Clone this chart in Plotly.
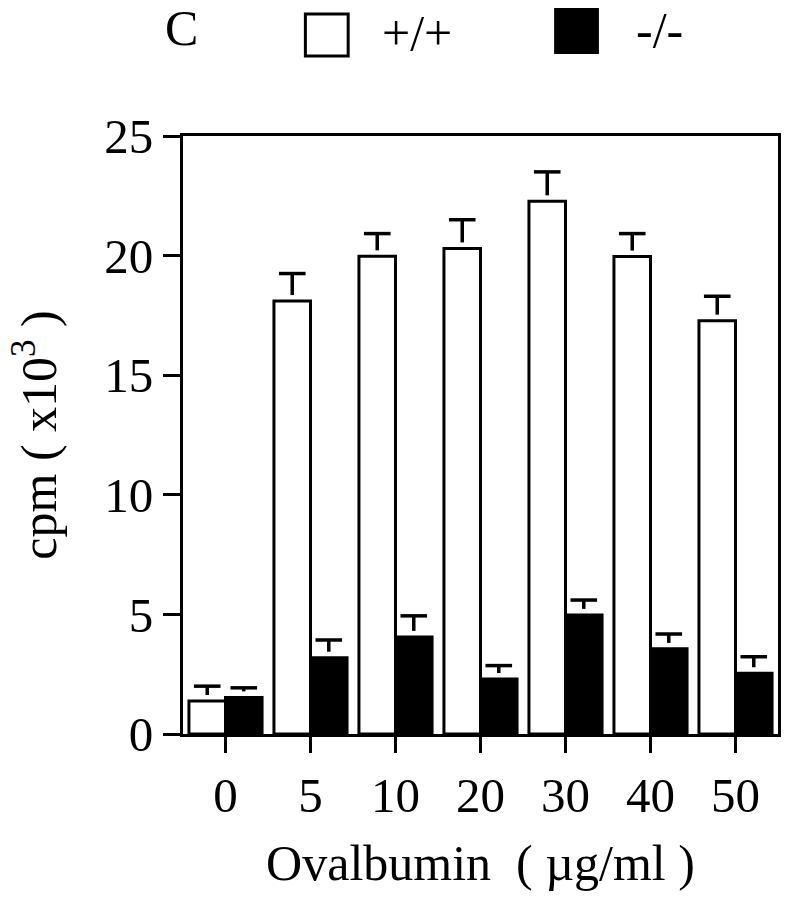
import plotly.graph_objects as go

# ---- data ----
doses = ["0", "5", "10", "20", "30", "40", "50"]
wt_mean = [1.38, 18.1, 19.97, 20.3, 22.27, 19.96, 17.28]
wt_err = [0.62, 1.15, 0.95, 1.2, 1.23, 0.96, 1.02]
ko_mean = [1.53, 3.19, 4.06, 2.3, 4.98, 3.56, 2.54]
ko_err = [0.4, 0.74, 0.88, 0.56, 0.62, 0.62, 0.69]
y_ticks = [0, 5, 10, 15, 20, 25]

FONT = "Liberation Serif, Times New Roman, serif"
W, H = 790, 899
L, R, T, B = 183, 9, 136, 165
PW, PH = W - L - R, H - T - B
BAR_W = 0.43
GAP = 0.25  # gap between bar top and error stem (data units)
LW = 3

idx = list(range(len(doses)))
x_wt = [i - BAR_W / 2 for i in idx]
x_ko = [i + BAR_W / 2 for i in idx]

fig = go.Figure()
fig.add_trace(go.Bar(x=x_wt, y=wt_mean, width=BAR_W, name="+/+",
                     marker=dict(color="white", line=dict(color="black", width=LW))))
fig.add_trace(go.Bar(x=x_ko, y=ko_mean, width=BAR_W, name="-/-",
                     marker=dict(color="black", line=dict(color="black", width=LW))))

for xs, m, e in [(x_wt, wt_mean, wt_err), (x_ko, ko_mean, ko_err)]:
    tops = [a + b for a, b in zip(m, e)]
    stems = [max(b - GAP, 0) for b in e]
    fig.add_trace(go.Scatter(
        x=xs, y=tops, mode="markers", showlegend=False, hoverinfo="skip",
        marker=dict(symbol="line-ew", size=19, color="black",
                    line=dict(color="black", width=3.5)),
        error_y=dict(type="data", symmetric=False, array=[0] * len(tops),
                     arrayminus=stems, width=0, thickness=3.5, color="black"),
    ))

axis_common = dict(showline=True, linecolor="black", linewidth=LW, mirror=True,
                   ticks="outside", tickcolor="black", tickwidth=LW,
                   showgrid=False, zeroline=False,
                   tickfont=dict(family=FONT, size=49, color="black"))

fig.update_xaxes(range=[-0.5, len(doses) - 0.5], tickvals=idx, ticktext=doses,
                 ticklen=16,
                 title=dict(text="Ovalbumin\u00a0 ( µg/ml )", standoff=24,
                            font=dict(family=FONT, size=50, color="black")),
                 **axis_common)
fig.update_yaxes(range=[0, 25], tickvals=y_ticks, ticklen=17,
                 title=dict(text="cpm ( x10<sup>3</sup> )", standoff=32,
                            font=dict(family=FONT, size=50, color="black")),
                 **axis_common)


def px_x(p):
    return (p - L) / PW


def px_y(p):
    return (H - B - p) / PH


# legend drawn by hand (panel letter, open and filled squares)
shapes = [
    dict(type="rect", xref="paper", yref="paper",
         x0=px_x(306), x1=px_x(349), y0=px_y(56), y1=px_y(14),
         fillcolor="white", line=dict(color="black", width=3)),
    dict(type="rect", xref="paper", yref="paper",
         x0=px_x(557), x1=px_x(600), y0=px_y(53), y1=px_y(9),
         fillcolor="black", line=dict(color="black", width=2)),
]
annotations = [
    dict(text="C", x=px_x(181), y=px_y(28), xref="paper", yref="paper",
         showarrow=False, xanchor="center", yanchor="middle",
         font=dict(family=FONT, size=50, color="black")),
    dict(text="+/+", x=px_x(381), y=px_y(33), xref="paper", yref="paper",
         showarrow=False, xanchor="left", yanchor="middle",
         font=dict(family=FONT, size=50, color="black")),
    dict(text="-/-", x=px_x(636), y=px_y(30), xref="paper", yref="paper",
         showarrow=False, xanchor="left", yanchor="middle",
         font=dict(family=FONT, size=50, color="black")),
]

fig.update_layout(width=W, height=H, margin=dict(l=L, r=R, t=T, b=B),
                  paper_bgcolor="white", plot_bgcolor="white",
                  barmode="overlay", showlegend=False,
                  shapes=shapes, annotations=annotations)

fig.write_html("out.html", config={"displayModeBar": False},
               post_script="document.body.style.margin='0';"
                           "document.body.style.padding='0';")
